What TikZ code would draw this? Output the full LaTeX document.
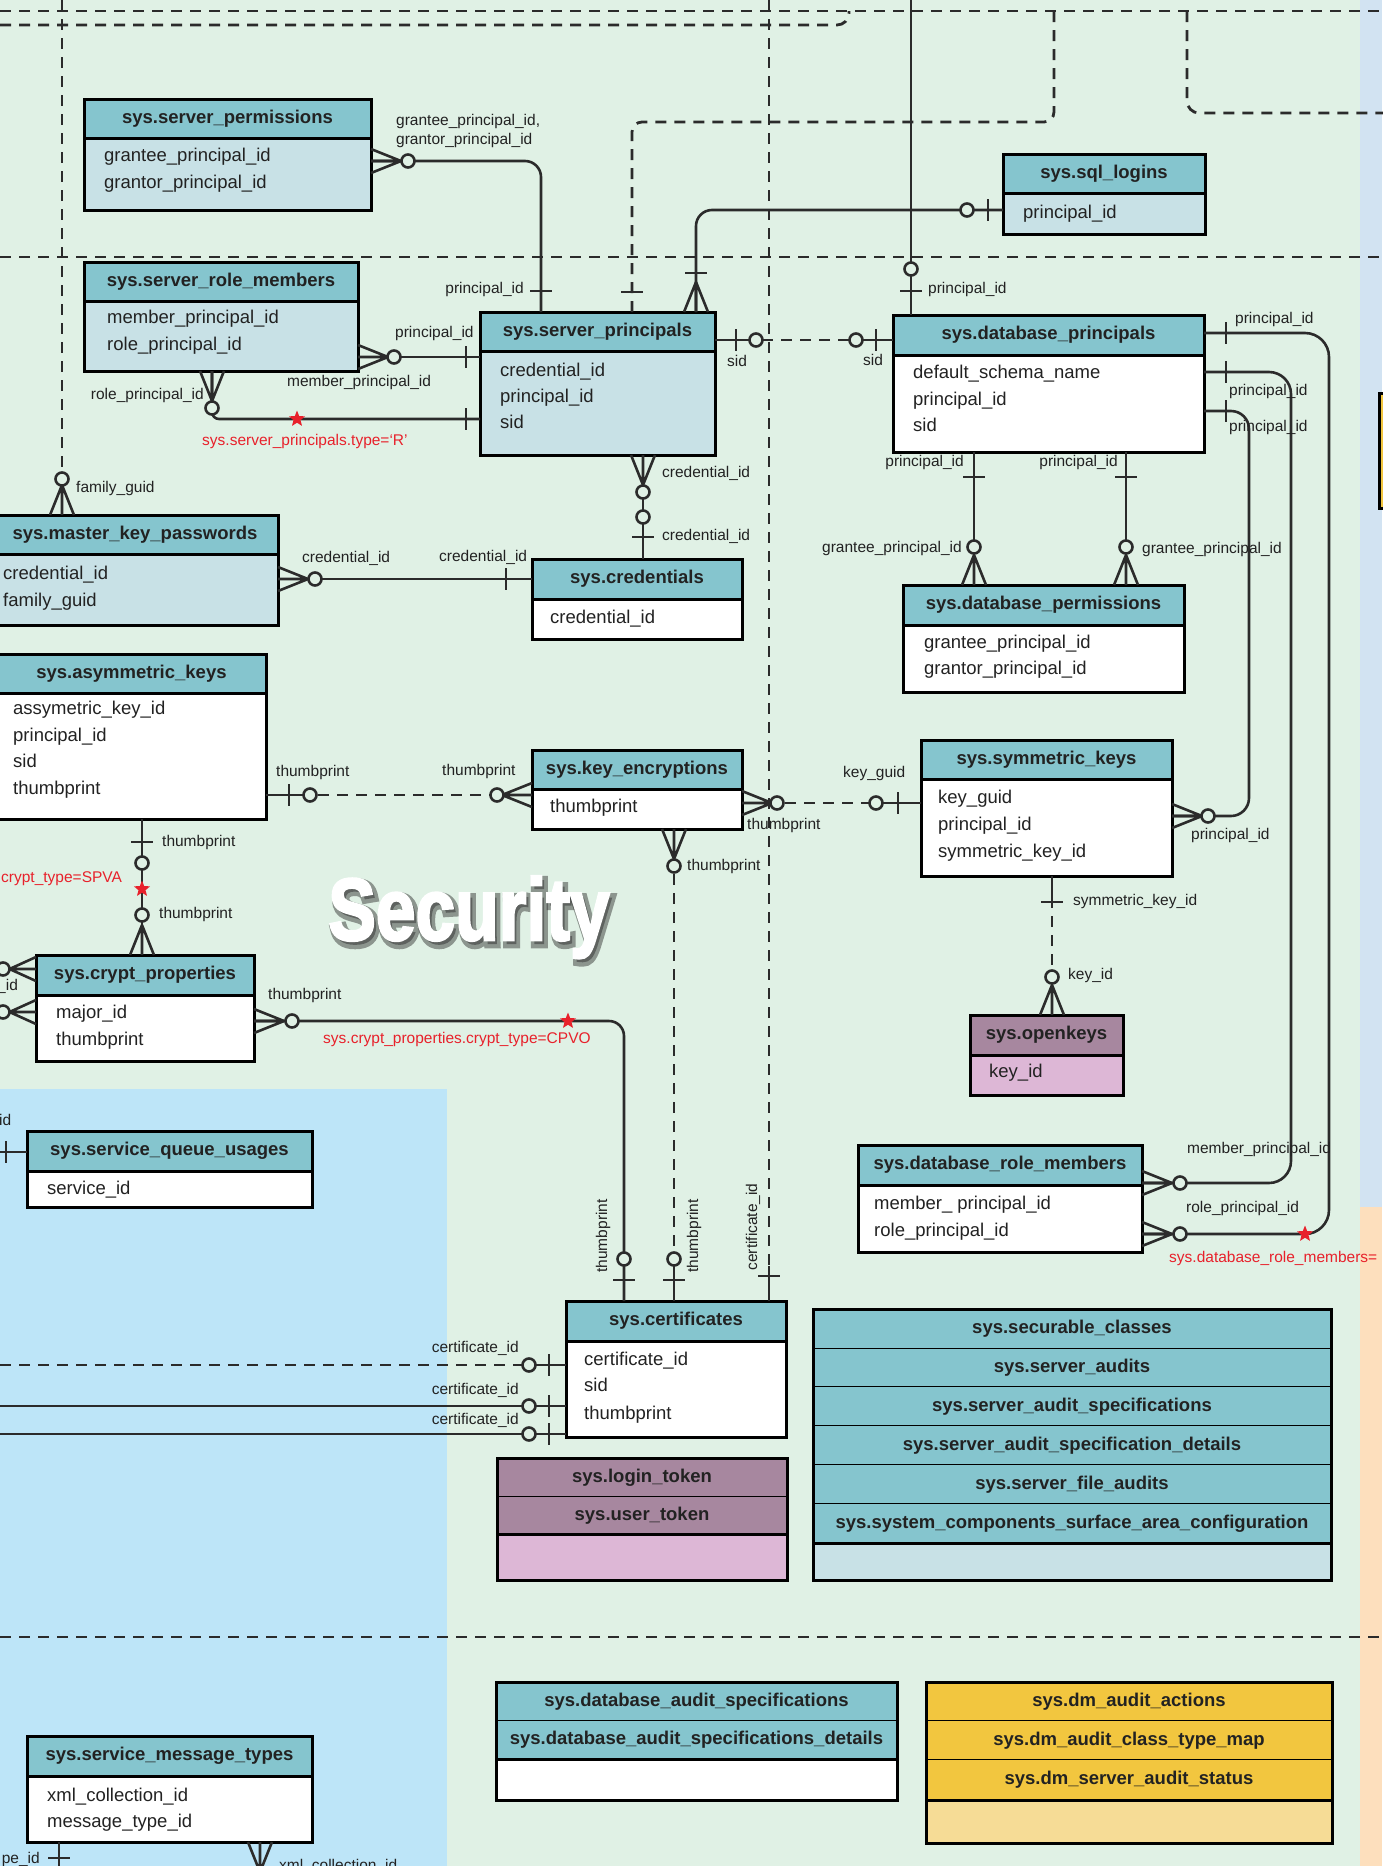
\documentclass[tikz,border=0pt]{standalone}
\usepackage{fontspec}
\setmainfont{Liberation Sans}
\newfontfamily\secfont{Liberation Sans}[UprightFont={* Bold}, FakeBold=3]
\newfontfamily\secshfont{Liberation Sans}[UprightFont={* Bold}, FakeBold=10]
\usetikzlibrary{shapes.geometric}
\definecolor{bgg}{HTML}{E0F1E5}
\definecolor{bluebg}{HTML}{BDE5F8}
\definecolor{stripb}{HTML}{D2E3F2}
\definecolor{stripp}{HTML}{FDDFBD}
\definecolor{hdrc}{HTML}{85C5CE}
\definecolor{bodyc}{HTML}{C8E1E6}
\definecolor{mauvec}{HTML}{A7879F}
\definecolor{pinkc}{HTML}{DDB7D6}
\definecolor{yelc}{HTML}{F2C63F}
\definecolor{lyelc}{HTML}{F6DC96}
\definecolor{lc}{HTML}{2B2B2B}
\definecolor{tc}{HTML}{222222}
\definecolor{redc}{HTML}{E8212B}
\tikzset{
  conn/.style={draw=lc, line width=2.6pt},
  dconn/.style={draw=lc, line width=2.8pt, dash pattern=on 11pt off 8pt},
  boxl/.style={draw=black, line width=3pt},
  hdr/.style={font=\fontsize{18.5}{22}\selectfont\bfseries, text=tc, inner sep=0pt, text height=13.3pt, text depth=3.7pt},
  fld/.style={font=\fontsize{18.5}{22}\selectfont, text=tc, inner sep=0pt, anchor=west, text height=13.3pt, text depth=3.7pt},
  lbl/.style={font=\fontsize{15.5}{18}\selectfont, text=tc, inner sep=0pt, text height=11.2pt, text depth=3.1pt},
  rlbl/.style={lbl, text=redc},
  rstar/.style={star, star points=5, star point ratio=2.3, fill=redc, draw=none, minimum size=17pt, inner sep=0pt},
  sect/.style={font={\secfont\fontsize{88}{88}\selectfont}, anchor=base, inner sep=0pt},
  crowfoot/.pic={\draw[conn] (0,-12)--(30,0) (0,0)--(30,0) (0,12)--(30,0);},
  onebar/.pic={\draw[conn] (0,-11)--(0,11);},
  ring/.pic={\draw[conn, fill=bgg] (0,0) circle (6.5pt);}
}
\newcommand\mkCF[3]{\pic[rotate=#3] at (#1,#2) {crowfoot};}
\newcommand\mkRG[2]{\pic at (#1,#2) {ring};}
\newcommand\mkBV[2]{\pic at (#1,#2) {onebar};}
\newcommand\mkBH[2]{\pic[rotate=90] at (#1,#2) {onebar};}
\newcommand\BOX[5]{\node[boxl, inner sep=0pt, outer sep=0pt, anchor=north west, minimum width={(#4-(#2))*1pt}, minimum height={(#5-(#3))*1pt}] (#1) at (#2,#3) {};}
\newcommand\ERT[9]{%
  \fill[#8] (#2,#3) rectangle (#4,#5);
  \fill[#9] (#2,#5) rectangle (#4,#6);
  \draw[boxl] (#2,#5) -- (#4,#5);
  \BOX{#1}{#2}{#3}{#4}{#6}
  \node[hdr] (#1t) at ({(#2+#4)/2},{(#3+#5)/2}) {#7};
}
\newcommand\ROW[7]{%
  \fill[#6] (#2,#3) rectangle (#4,#5);
  \draw[boxl] (#2,#5) -- (#4,#5);
  \node[hdr] (#1) at ({(#2+#4)/2},{(#3+#5)/2}) {#7};
}
\begin{document}
\begin{tikzpicture}[x=1pt,y=-1pt]
\useasboundingbox (0,0) rectangle (1382,1866);
% backgrounds
\fill[bgg] (0,0) rectangle (1382,1866);
\fill[bluebg] (0,1089) rectangle (447,1866);
\fill[stripb] (1360,0) rectangle (1382,1207);
\fill[stripp] (1360,1207) rectangle (1382,1866);
\draw[boxl, fill=yelc] (1379,393) rectangle (1400,508);
% frame dashed lines
\draw[dconn] (0,11) -- (1382,11);
\draw[dconn, rounded corners=12] (0,25) -- (849,25) -- (849,11);
\draw[dconn] (0,257) -- (1382,257);
\draw[dconn] (0,1637) -- (1382,1637);
\draw[dconn, rounded corners=12] (1187,11) -- (1187,113) -- (1390,113);

% ---------- tables ----------
\ERT{spm}{84}{99}{371}{138}{210}{sys.server\_permissions}{hdrc}{bodyc}
\ERT{srm}{84}{262}{358}{301}{371}{sys.server\_role\_members}{hdrc}{bodyc}
\ERT{sp}{480}{312}{715}{351}{455}{sys.server\_principals}{hdrc}{bodyc}
\ERT{sql}{1003}{154}{1205}{193}{234}{sys.sql\_logins}{hdrc}{bodyc}
\ERT{dp}{893}{315}{1204}{355}{452}{sys.database\_principals}{hdrc}{white}
\ERT{mkp}{-8}{515}{278}{554}{625}{sys.master\_key\_passwords}{hdrc}{bodyc}
\ERT{ak}{-3}{654}{266}{693}{819}{sys.asymmetric\_keys}{hdrc}{white}
\ERT{cred}{532}{559}{742}{599}{639}{sys.credentials}{hdrc}{white}
\ERT{ke}{532}{750}{742}{789}{829}{sys.key\_encryptions}{hdrc}{white}
\ERT{dbp}{903}{585}{1184}{625}{692}{sys.database\_permissions}{hdrc}{white}
\ERT{sym}{921}{740}{1172}{779}{876}{sys.symmetric\_keys}{hdrc}{white}
\ERT{ok}{970}{1015}{1123}{1055}{1095}{sys.openkeys}{mauvec}{pinkc}
\ERT{drm}{858}{1145}{1142}{1185}{1252}{sys.database\_role\_members}{hdrc}{white}
\ERT{cp}{36}{955}{254}{995}{1061}{sys.crypt\_properties}{hdrc}{white}
\ERT{squ}{27}{1131}{312}{1171}{1207}{sys.service\_queue\_usages}{hdrc}{white}
\ERT{cert}{566}{1301}{786}{1341}{1437}{sys.certificates}{hdrc}{white}
\ERT{smt}{27}{1736}{312}{1776}{1842}{sys.service\_message\_types}{hdrc}{white}

% groups
\fill[pinkc] (497,1458) rectangle (787,1580);
\ROW{lt}{497}{1458}{787}{1497}{mauvec}{sys.login\_token}
\ROW{ut}{497}{1497}{787}{1534}{mauvec}{sys.user\_token}
\BOX{tok}{497}{1458}{787}{1580}

\fill[bodyc] (813,1309) rectangle (1331,1580);
\ROW{sc}{813}{1309}{1331}{1349}{hdrc}{sys.securable\_classes}
\ROW{sa}{813}{1349}{1331}{1387}{hdrc}{sys.server\_audits}
\ROW{sas}{813}{1387}{1331}{1426}{hdrc}{sys.server\_audit\_specifications}
\ROW{sasd}{813}{1426}{1331}{1465}{hdrc}{sys.server\_audit\_specification\_details}
\ROW{sfa}{813}{1465}{1331}{1504}{hdrc}{sys.server\_file\_audits}
\ROW{scs}{813}{1504}{1331}{1543}{hdrc}{sys.system\_components\_surface\_area\_configuration}
\BOX{aud}{813}{1309}{1331}{1580}

\fill[white] (496,1682) rectangle (897,1800);
\ROW{das}{496}{1682}{897}{1721}{hdrc}{sys.database\_audit\_specifications}
\ROW{dasd}{496}{1721}{897}{1759}{hdrc}{sys.database\_audit\_specifications\_details}
\BOX{dba}{496}{1682}{897}{1800}

\fill[lyelc] (926,1682) rectangle (1332,1843);
\ROW{dma}{926}{1682}{1332}{1721}{yelc}{sys.dm\_audit\_actions}
\ROW{dmc}{926}{1721}{1332}{1760}{yelc}{sys.dm\_audit\_class\_type\_map}
\ROW{dms}{926}{1760}{1332}{1800}{yelc}{sys.dm\_server\_audit\_status}
\BOX{dm}{926}{1682}{1332}{1843}

% fields
\node[fld] (spm1) at (104,157) {grantee\_principal\_id};
\node[fld] (spm2) at (104,184) {grantor\_principal\_id};
\node[fld] (srm1) at (107,319) {member\_principal\_id};
\node[fld] (srm2) at (107,346) {role\_principal\_id};
\node[fld] (sp1) at (500,372) {credential\_id};
\node[fld] (sp2) at (500,398) {principal\_id};
\node[fld] (sp3) at (500,424) {sid};
\node[fld] (sql1) at (1023,214) {principal\_id};
\node[fld] (dp1) at (913,374) {default\_schema\_name};
\node[fld] (dp2) at (913,401) {principal\_id};
\node[fld] (dp3) at (913,427) {sid};
\node[fld] (mkp1) at (3,575) {credential\_id};
\node[fld] (mkp2) at (3,602) {family\_guid};
\node[fld] (ak1) at (13,710) {assymetric\_key\_id};
\node[fld] (ak2) at (13,737) {principal\_id};
\node[fld] (ak3) at (13,763) {sid};
\node[fld] (ak4) at (13,790) {thumbprint};
\node[fld] (cred1) at (550,619) {credential\_id};
\node[fld] (ke1) at (550,808) {thumbprint};
\node[fld] (dbp1) at (924,644) {grantee\_principal\_id};
\node[fld] (dbp2) at (924,670) {grantor\_principal\_id};
\node[fld] (sym1) at (938,799) {key\_guid};
\node[fld] (sym2) at (938,826) {principal\_id};
\node[fld] (sym3) at (938,853) {symmetric\_key\_id};
\node[fld] (ok1) at (989,1073) {key\_id};
\node[fld] (drm1) at (874,1205) {member\_ principal\_id};
\node[fld] (drm2) at (874,1232) {role\_principal\_id};
\node[fld] (cp1) at (56,1014) {major\_id};
\node[fld] (cp2) at (56,1041) {thumbprint};
\node[fld] (squ1) at (47,1190) {service\_id};
\node[fld] (cert1) at (584,1361) {certificate\_id};
\node[fld] (cert2) at (584,1387) {sid};
\node[fld] (cert3) at (584,1415) {thumbprint};
\node[fld] (smt1) at (47,1797) {xml\_collection\_id};
\node[fld] (smt2) at (47,1823) {message\_type\_id};

% ---------- connectors ----------
\draw[conn, rounded corners=16] (spm.east |- 0,161) -| (sp.north -| 541,0);
\draw[conn] (srm.east |- 0,357) -- (sp.west |- 0,357);
\draw[conn, rounded corners=7] (srm.south -| 212,0) |- (sp.west |- 0,419);
\draw[dconn, rounded corners=10] (sp.north -| 632,0) -- (632,122) -- (1054,122) -- (1054,11);
\draw[conn, rounded corners=16] (sp.north -| 696,0) |- (sql.west |- 0,210);
\draw[conn] (sp.east |- 0,340) -- (756,340);
\draw[dconn] (762,340) -- (850,340);
\draw[conn] (856,340) -- (dp.west |- 0,340);
\draw[conn] (911,0) -- (dp.north -| 911,0);
\draw[conn, rounded corners=24] (dp.east |- 0,333) -| (1329,1234) -- (drm.east |- 0,1234);
\draw[conn, rounded corners=22] (dp.east |- 0,372) -| (1291,1183) -- (drm.east |- 0,1183);
\draw[conn, rounded corners=18] (dp.east |- 0,411) -| (1249,816) -- (sym.east |- 0,816);
\draw[conn] (dp.south -| 974,0) -- (dbp.north -| 974,0);
\draw[conn] (dp.south -| 1126,0) -- (dbp.north -| 1126,0);
\draw[conn] (sp.south -| 643,0) -- (cred.north -| 643,0);
\draw[conn] (mkp.east |- 0,579) -- (cred.west |- 0,579);
\draw[dconn] (62,0) -- (62,473);
\draw[conn] (62,479) -- (mkp.north -| 62,0);
\draw[conn] (ak.east |- 0,795) -- (310,795);
\draw[dconn] (318,795) -- (491,795);
\draw[conn] (497,795) -- (ke.west |- 0,795);
\draw[conn] (ke.east |- 0,803) -- (777,803);
\draw[dconn] (785,803) -- (870,803);
\draw[conn] (876,803) -- (sym.west |- 0,803);
\draw[conn] (ke.south -| 674,0) -- (674,866);
\draw[dconn] (674,874) -- (674,1253);
\draw[conn] (674,1259) -- (cert.north -| 674,0);
\draw[conn, rounded corners=15] (cp.east |- 0,1021) -| (cert.north -| 624,0);
\draw[dconn] (769,0) -- (769,1266);
\draw[conn] (769,1266) -- (cert.north -| 769,0);
\draw[conn] (ak.south -| 142,0) -- (cp.north -| 142,0);
\draw[conn] (sym.south -| 1052,0) -- (1052,908);
\draw[dconn] (1052,916) -- (1052,971);
\draw[conn] (1052,977) -- (ok.north -| 1052,0);
\draw[conn] (cp.west |- 0,957) -- (9.5,969) -- (cp.west |- 0,981) (cp.west |- 0,969) -- (9.5,969);
\draw[conn] (cp.west |- 0,1000) -- (9.5,1012) -- (cp.west |- 0,1024) (cp.west |- 0,1012) -- (9.5,1012);
\draw[conn] (-5,1152) -- (squ.west |- 0,1152);
\draw[conn] (smt.south -| 59,0) -- (59,1880);
\draw[dconn] (0,1365) -- (523,1365);
\draw[conn] (529,1365) -- (cert.west |- 0,1365);
\draw[conn] (0,1406) -- (cert.west |- 0,1406);
\draw[conn] (0,1434) -- (cert.west |- 0,1434);

% crow's feet
\mkCF{371}{161}{0}
\mkCF{358}{357}{0}
\mkCF{212}{371}{-90}
\mkCF{696}{312}{90}
\mkCF{278}{579}{0}
\mkCF{62}{515}{90}
\mkCF{532}{795}{180}
\mkCF{742}{803}{0}
\mkCF{674}{829}{-90}
\mkCF{643}{455}{-90}
\mkCF{254}{1021}{0}
\mkCF{142}{955}{90}
\mkCF{974}{585}{90}
\mkCF{1126}{585}{90}
\mkCF{1172}{816}{0}
\mkCF{1142}{1183}{0}
\mkCF{1142}{1234}{0}
\mkCF{1052}{1015}{90}
\mkCF{260}{1842}{-90}
% bars
\mkBV{466}{357} \mkBV{466}{419} \mkBV{988}{210} \mkBV{736}{340} \mkBV{876}{340}
\mkBV{1226}{333} \mkBV{1226}{372} \mkBV{1226}{411} \mkBV{506}{579} \mkBV{289}{795}
\mkBV{898}{803} \mkBV{549}{1365} \mkBV{549}{1406} \mkBV{549}{1434} \mkBV{6}{1152}
\mkBH{541}{291} \mkBH{632}{292} \mkBH{696}{273} \mkBH{911}{291} \mkBH{974}{477}
\mkBH{1126}{477} \mkBH{643}{537} \mkBH{674}{1280} \mkBH{624}{1280} \mkBH{769}{1276}
\mkBH{142}{842} \mkBH{1052}{902} \mkBH{59}{1858}
% rings
\mkRG{408}{161} \mkRG{394}{357} \mkRG{212}{408} \mkRG{967}{210} \mkRG{756}{340}
\mkRG{856}{340} \mkRG{911}{269} \mkRG{974}{547} \mkRG{1126}{547} \mkRG{643}{492}
\mkRG{643}{517} \mkRG{315}{579} \mkRG{62}{479} \mkRG{310}{795} \mkRG{497}{795}
\mkRG{777}{803} \mkRG{876}{803} \mkRG{674}{866} \mkRG{674}{1259} \mkRG{624}{1259}
\mkRG{292}{1021} \mkRG{142}{863} \mkRG{142}{915} \mkRG{1052}{977} \mkRG{1208}{816}
\mkRG{1180}{1183} \mkRG{1180}{1234} \mkRG{529}{1365} \mkRG{529}{1406} \mkRG{529}{1434}
\mkRG{3}{969} \mkRG{3}{1012}
% red stars
\node[rstar] (st1) at (297,419) {};
\node[rstar] (st2) at (142,889) {};
\node[rstar] (st3) at (568,1021) {};
\node[rstar] (st4) at (1305,1234) {};

% ---------- labels ----------
\node[lbl, anchor=west] (l1) at (396,121) {grantee\_principal\_id,};
\node[lbl, anchor=west] (l2) at (396,140) {grantor\_principal\_id};
\node[lbl, anchor=east] (l3) at (524,289) {principal\_id};
\node[lbl, anchor=west] (l4) at (395,333) {principal\_id};
\node[lbl, anchor=west] (l5) at (287,382) {member\_principal\_id};
\node[lbl, anchor=east] (l6) at (204,395) {role\_principal\_id};
\node[rlbl, anchor=west] (l7) at (202,441) {sys.server\_principals.type=‘R’};
\node[lbl] (l8) at (737,362) {sid};
\node[lbl] (l9) at (873,361) {sid};
\node[lbl, anchor=west] (l10) at (928,289) {principal\_id};
\node[lbl, anchor=west] (l11) at (1235,319) {principal\_id};
\node[lbl, anchor=west] (l12) at (1229,391) {principal\_id};
\node[lbl, anchor=west] (l13) at (1229,427) {principal\_id};
\node[lbl, anchor=east] (l14) at (964,462) {principal\_id};
\node[lbl, anchor=east] (l15) at (1118,462) {principal\_id};
\node[lbl, anchor=east] (l16) at (962,548) {grantee\_principal\_id};
\node[lbl, anchor=west] (l17) at (1142,549) {grantee\_principal\_id};
\node[lbl, anchor=west] (l18) at (76,488) {family\_guid};
\node[lbl, anchor=west] (l19) at (662,473) {credential\_id};
\node[lbl, anchor=west] (l20) at (662,536) {credential\_id};
\node[lbl, anchor=west] (l21) at (302,558) {credential\_id};
\node[lbl, anchor=west] (l22) at (439,557) {credential\_id};
\node[lbl, anchor=west] (l23) at (276,772) {thumbprint};
\node[lbl, anchor=west] (l24) at (442,771) {thumbprint};
\node[lbl, anchor=west] (l25) at (843,773) {key\_guid};
\node[lbl, anchor=west] (l26) at (747,825) {thumbprint};
\node[lbl, anchor=west] (l27) at (1191,835) {principal\_id};
\node[lbl, anchor=west] (l28) at (162,842) {thumbprint};
\node[lbl, anchor=west] (l29) at (159,914) {thumbprint};
\node[rlbl, anchor=west] (l30) at (1,878) {crypt\_type=SPVA};
\node[lbl, anchor=west] (l31) at (687,866) {thumbprint};
\node[lbl, anchor=west] (l32) at (1073,901) {symmetric\_key\_id};
\node[lbl, anchor=west] (l33) at (1068,975) {key\_id};
\node[lbl, anchor=west] (l34) at (-3,986) {\_id};
\node[lbl, anchor=west] (l35) at (268,995) {thumbprint};
\node[rlbl, anchor=west] (l36) at (323,1039) {sys.crypt\_properties.crypt\_type=CPVO};
\node[lbl, anchor=west] (l37) at (-1,1121) {id};
\node[lbl, anchor=west] (l38) at (1187,1149) {member\_principal\_id};
\node[lbl, anchor=west] (l39) at (1186,1208) {role\_principal\_id};
\node[rlbl, anchor=west] (l40) at (1169,1258) {sys.database\_role\_members=};
\node[lbl, rotate=90] (l41) at (603,1236) {thumbprint};
\node[lbl, rotate=90] (l42) at (694,1236) {thumbprint};
\node[lbl, rotate=90] (l43) at (753,1227) {certificate\_id};
\node[lbl, anchor=east] (l44) at (519,1348) {certificate\_id};
\node[lbl, anchor=east] (l45) at (519,1390) {certificate\_id};
\node[lbl, anchor=east] (l46) at (519,1420) {certificate\_id};
\node[lbl, anchor=east] (l47) at (40,1859) {pe\_id};
\node[lbl, anchor=west] (l48) at (279,1866) {xml\_collection\_id};

% ---------- title ----------
\node[sect, font={\secshfont\fontsize{88}{88}\selectfont}, text=black!85, opacity=0.45] (secsh) at (472,944) {\scalebox{0.81}[1]{Security}};
\node[sect, text=white] (sectitle) at (469,940) {\scalebox{0.81}[1]{Security}};
\end{tikzpicture}
\end{document}
